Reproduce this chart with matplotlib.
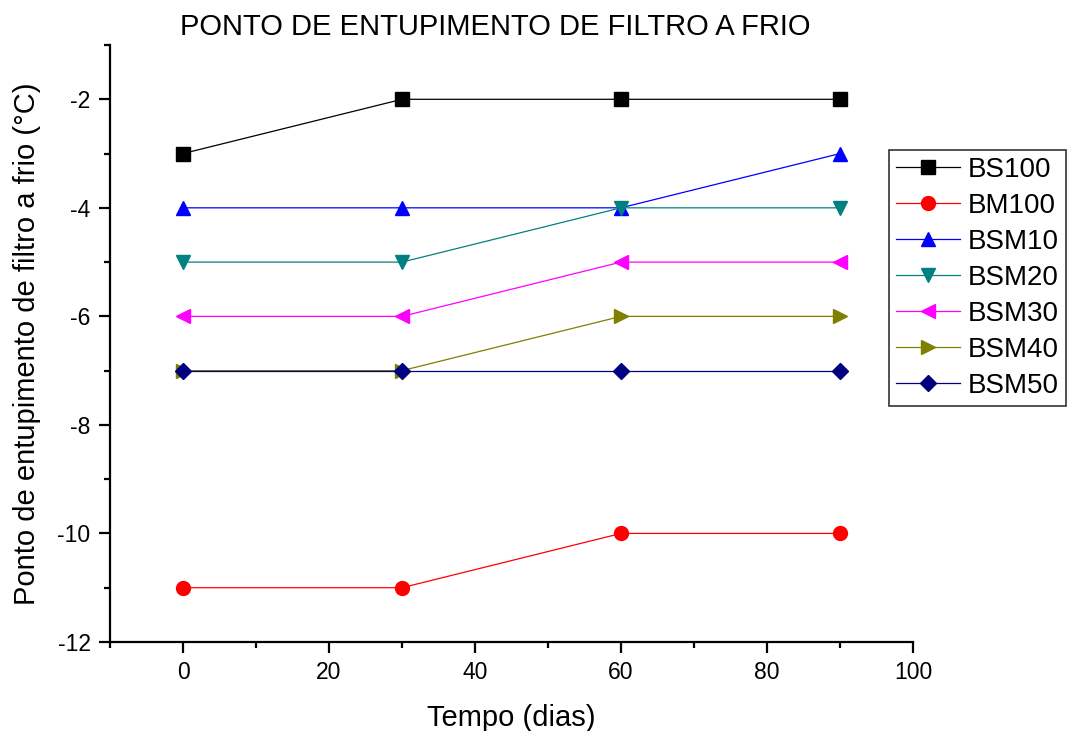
import matplotlib.pyplot as plt
from matplotlib.ticker import MultipleLocator

plt.rcParams['font.family'] = ['Liberation Sans', 'DejaVu Sans']
plt.rcParams['axes.unicode_minus'] = False

dias = [0, 30, 60, 90]
bs100 = [-3, -2, -2, -2]
bm100 = [-11, -11, -10, -10]
bsm10 = [-4, -4, -4, -3]
bsm20 = [-5, -5, -4, -4]
bsm30 = [-6, -6, -5, -5]
bsm40 = [-7, -7, -6, -6]
bsm50 = [-7, -7, -7, -7]

series = [
    ('BS100', bs100, '#000000', 's'),
    ('BM100', bm100, '#ff0000', 'o'),
    ('BSM10', bsm10, '#0000ff', '^'),
    ('BSM20', bsm20, '#008080', 'v'),
    ('BSM30', bsm30, '#ff00ff', '<'),
    ('BSM40', bsm40, '#808000', '>'),
    ('BSM50', bsm50, '#000080', 'D'),
]

fig = plt.figure(figsize=(10.67, 7.31), dpi=100)
ax = fig.add_axes([0.1031, 0.1218, 0.7526, 0.8166])

for nome, vals, cor, mk in series:
    ms = 8.5 if mk == 'D' else 10
    ax.plot(dias, vals, color=cor, marker=mk, markersize=ms, linewidth=0.9,
            markeredgecolor=cor, markerfacecolor=cor, label=nome)

ax.set_xlim(-10, 100)
ax.set_ylim(-12, -1)
ax.xaxis.set_major_locator(MultipleLocator(20))
ax.xaxis.set_minor_locator(MultipleLocator(10))
ax.yaxis.set_major_locator(MultipleLocator(2))
ax.yaxis.set_minor_locator(MultipleLocator(1))
ax.tick_params(which='major', direction='out', length=8, width=1.6, labelsize=16.5, pad=6)
ax.tick_params(which='minor', direction='out', length=4, width=1.6)

ax.spines['top'].set_visible(False)
ax.spines['right'].set_visible(False)
ax.spines['left'].set_linewidth(1.6)
ax.spines['bottom'].set_linewidth(1.6)

ax.set_xlabel('Tempo (dias)', fontsize=21, labelpad=14)
ax.set_ylabel('Ponto de entupimento de filtro a frio (°C)', fontsize=21, labelpad=12)
fig.text(0.464, 0.963, 'PONTO DE ENTUPIMENTO DE FILTRO A FRIO', ha='center', va='center', fontsize=21)

leg = fig.legend(loc='upper left', bbox_to_anchor=(0.833, 0.795), fontsize=20,
                 frameon=True, fancybox=False, edgecolor='black', handlelength=2.3,
                 borderpad=0.25, labelspacing=0.36, handletextpad=0.3, borderaxespad=0)
leg.get_frame().set_linewidth(1.2)

plt.savefig('out.png', dpi=100)
